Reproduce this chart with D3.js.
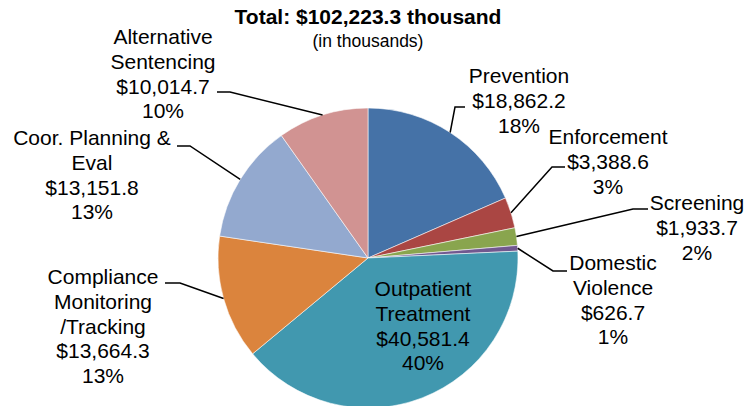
<!DOCTYPE html>
<html>
<head>
<meta charset="utf-8">
<script src="https://cdn.jsdelivr.net/npm/d3@7"></script>
<style>
  html, body { margin: 0; padding: 0; background: #fff; }
  svg { display: block; font-family: "Liberation Sans", Arial, sans-serif; }
</style>
</head>
<body>
<svg id="chart" width="745" height="406"></svg>
<script>
// Program budget by category, in thousands of dollars
const categories = [
  "Prevention", "Enforcement", "Screening", "Domestic Violence",
  "Outpatient Treatment", "Compliance Monitoring /Tracking",
  "Coor. Planning & Eval", "Alternative Sentencing"
];
const amounts = [18862.2, 3388.6, 1933.7, 626.7, 40581.4, 13664.3, 13151.8, 10014.7];
const percentLabels = ["18%", "3%", "2%", "1%", "40%", "13%", "13%", "10%"];
// How each category name is broken across lines in its label
const nameLines = [
  ["Prevention"], ["Enforcement"], ["Screening"], ["Domestic", "Violence"],
  ["Outpatient", "Treatment"], ["Compliance", "Monitoring", "/Tracking"],
  ["Coor. Planning &", "Eval"], ["Alternative", "Sentencing"]
];
const titleText = "Total: $102,223.3 thousand";
const subtitleText = "(in thousands)";

const colors = ["#4572A7", "#AA4643", "#89A54E", "#71588F", "#4198AF", "#DB843D", "#93A9CF", "#D19392"];

// Label placement: centre x, first line y; leader elbow (ex, ey) and tail end x (hx)
const labelLayout = [
  { x: 519, y: 76,  ex: 455, ey: 107, hx: 465 },
  { x: 608, y: 137, ex: 552, ey: 167, hx: 565 },
  { x: 697, y: 203, ex: 633, ey: 209, hx: 648 },
  { x: 613, y: 263, ex: 553, ey: 271, hx: 567 },
  { x: 423, y: 289, ex: null },
  { x: 103, y: 277, ex: 180, ey: 283, hx: 165 },
  { x: 92,  y: 138, ex: 190, ey: 146, hx: 177 },
  { x: 163, y: 37,  ex: 230, ey: 92,  hx: 217 }
];

const cx = 368, cy = 258, radius = 150;
const fontSize = 21, lineStep = 24.6;

const svg = d3.select("#chart");

const data = categories.map((c, i) => ({
  name: c, value: amounts[i], pct: percentLabels[i], lines: nameLines[i],
  color: colors[i], layout: labelLayout[i]
}));

const pie = d3.pie().sort(null).value(d => d.value);
const arc = d3.arc().innerRadius(0).outerRadius(radius);
const arcs = pie(data);

const g = svg.append("g").attr("transform", `translate(${cx},${cy})`);

g.selectAll("path.slice")
  .data(arcs)
  .join("path")
  .attr("class", "slice")
  .attr("d", arc)
  .attr("fill", d => d.data.color)
  .attr("stroke", "#ffffff")
  .attr("stroke-width", 0.7)
  .attr("stroke-opacity", 0.8);

// Leader lines from slice edge to label
const money = d3.format(",.1f");
arcs.forEach(a => {
  const L = a.data.layout;
  if (L.ex == null) return;
  const mid = (a.startAngle + a.endAngle) / 2;
  const px = cx + radius * Math.sin(mid);
  const py = cy - radius * Math.cos(mid);
  svg.append("polyline")
    .attr("points", `${px},${py} ${L.ex},${L.ey} ${L.hx},${L.ey}`)
    .attr("fill", "none")
    .attr("stroke", "#000")
    .attr("stroke-width", 1.5);
});

// Data labels
arcs.forEach(a => {
  const d = a.data, L = d.layout;
  const lines = [...d.lines, "$" + money(d.value), d.pct];
  const t = svg.append("text")
    .attr("text-anchor", "middle")
    .attr("font-size", fontSize)
    .attr("fill", "#000");
  lines.forEach((s, k) => {
    t.append("tspan")
      .attr("x", L.x)
      .attr("y", L.y + k * lineStep)
      .attr("dy", "0.35em")
      .text(s);
  });
});

// Title
svg.append("text")
  .attr("x", cx).attr("y", 17).attr("dy", "0.35em")
  .attr("text-anchor", "middle")
  .attr("font-size", 21).attr("font-weight", "bold")
  .text(titleText);
svg.append("text")
  .attr("x", cx).attr("y", 41).attr("dy", "0.35em")
  .attr("text-anchor", "middle")
  .attr("font-size", 17.5)
  .text(subtitleText);
</script>
</body>
</html>
